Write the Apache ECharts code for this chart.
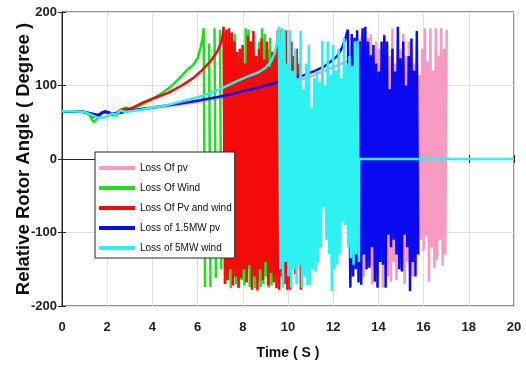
<!DOCTYPE html>
<html><head><meta charset="utf-8">
<script src="https://cdn.jsdelivr.net/npm/echarts@6/dist/echarts.min.js"></script>
<style>html,body{margin:0;padding:0;background:#fff}#c{width:526px;height:369px}</style>
</head><body><div id="c"></div>
<script>
// ---- data ----
const seriesNames = ['Loss Of pv', 'Loss Of Wind', 'Loss Of Pv and wind', 'Loss of 1.5MW pv', 'Loss of 5MW wind'];
const seriesColors = ['#f79ac2', '#1ee01e', '#f50a0a', '#0a0af0', '#2ef2f2'];
const xTicks = [0, 2, 4, 6, 8, 10, 12, 14, 16, 18, 20];
const yTicks = [-200, -100, 0, 100, 200];

// smooth (pre-slip) parts: [time s, angle deg]
const pvSmooth = [[0,65],[0.5,65],[1.0,64],[1.3,61],[1.6,59],[1.9,64],[2.2,62],[2.6,63],[3.0,65],[3.5,67],[4.0,69],[5.0,73],[6.0,78],[7.0,83],[8.0,88],[9.0,95],[10.0,102],[11.0,112],[12.0,125],[12.6,133],[12.9,140],[13.1,150],[13.22,162]];
const windSmooth = [[0,65],[0.5,65],[1.0,64],[1.2,60],[1.4,50],[1.6,56],[1.8,63],[2.0,64],[2.2,60],[2.4,59],[2.6,66],[2.8,70],[3.0,68],[3.3,71],[3.6,75],[4.0,82],[4.4,89],[4.8,98],[5.2,110],[5.5,120],[5.8,128],[6.0,137],[6.13,151],[6.22,165]];
const pvWindSmooth = [[0,65],[0.5,65],[1.0,64],[1.2,62],[1.4,57],[1.6,58],[1.8,64],[2.0,63],[2.2,61],[2.4,62],[2.6,67],[2.8,68],[3.0,68],[3.2,71],[3.6,77],[4.0,82],[4.7,90],[5.3,100],[5.8,110],[6.2,121],[6.6,134],[6.9,148],[7.05,160],[7.12,170]];
const pv15Smooth = [[0,65],[0.5,65],[1.0,64],[1.3,62],[1.6,60],[1.9,65],[2.2,62],[2.6,63],[3.0,66],[3.5,68],[4.0,70],[4.7,73],[5.5,77],[6.1,80],[7.0,85],[7.6,89],[8.2,94],[8.8,98],[9.5,104],[10.1,110],[10.7,114],[11.2,120],[11.6,126],[12.0,135],[12.2,141],[12.4,152],[12.55,165],[12.65,176]];
const wind5Smooth = [[0,65],[0.5,65],[1.0,64],[1.3,60],[1.6,56],[1.8,56],[2.0,58],[2.2,62],[2.4,61],[2.6,66],[2.8,64],[3.0,65],[3.5,67],[4.0,70],[4.5,72],[5.0,76],[5.5,80],[6.0,84],[6.5,89],[7.0,95],[7.6,104],[8.2,112],[8.7,118],[9.0,124],[9.24,132],[9.4,143],[9.5,157],[9.56,170]];

// pole-slipping parts: values sampled every oscStep seconds from the start time (null = gap)
const oscStep = 0.06;
const pvOscStart = 13.3;
const pvOsc = [170,-160,150,-150,165,-140,170,-170,140,-150,160,-120,150,-140,120,-175,170,-130,150,-160,140,-167,178,-140,130,-165,160,-120,150,-150,170,-170,140,-140,160,-150,150,-160,130,-120,150,-120,114,-110,150,-125,178,-105,133,-167,178,-120,120,-148,178,-137,140,-110,178,-145,150,-130,176];
const windOscStart = 6.27;
const windOsc = [178,-174,null,null,157,-174,null,null,178,-162,null,null,176,-150,null,150,-170,130,-160,146,-176,120,-150,170,-170,140,-176,150,-165,130,-172,178,-150,176,-174,160,-140,150,-176,130,-168,160,-174,178,-170,170,-160,150,-175,165,-172,140,-165,130,-160,120];
const pvWindOscStart = 7.15;
const pvWindOsc = [180,-170,176,-165,178,-150,172,-172,160,-160,146,-175,150,-162,155,-150,130,-168,168,-145,160,-178,174,-160,140,-179,150,-150,164,-165,135,-140,160,-172,125,-155,146,-168,150,-176,175,-178,176,-160,120,-170,175,-178,130,-178,160,-150,140,-157,150,-140,130,-178];
const pv15OscStart = 12.7;
const pv15Osc = [178,-175,170,-160,165,-150,175,-168,160,-171,178,-130,180,-150,160,-148,141,-120,155,-167,130,-175,119,-140,160,-144,168,-175,160,-103,95,-120,150,-110,119,-130,180,-150,137,-153,160,-103,100,-120,140,-180,164,-140,120,-160,174,-130];
const wind5OscStart = 9.6;
const wind5Osc = [180,-150,178,-175,176,-140,130,-160,175,-175,120,-150,150,-170,110,-145,174,-175,95,-160,130,-172,155,-171,70,-150,110,-153,120,-140,105,-120,161,-66,100,-110,160,-130,115,-180,155,-150,120,-144,150,-130,110,-85,165,-90,130,-120,140,-135,127,-144,160,-130,161,-140];
const wind5Tail = [[13.15,0],[20,0]];

function build(smooth, start, osc, tail) {
  const pts = smooth.slice();
  osc.forEach((v, i) => pts.push([+(start + i * oscStep).toFixed(3), v]));
  return tail ? pts.concat(tail) : pts;
}
const seriesData = [
  build(pvSmooth, pvOscStart, pvOsc),
  build(windSmooth, windOscStart, windOsc),
  build(pvWindSmooth, pvWindOscStart, pvWindOsc),
  build(pv15Smooth, pv15OscStart, pv15Osc),
  build(wind5Smooth, wind5OscStart, wind5Osc, wind5Tail)
];

// ---- chart ----
const FONT = '"Liberation Sans",Arial,sans-serif';
const chart = echarts.init(document.getElementById('c'), null, {renderer: 'canvas'});
const axisBase = {
  axisLine: {show: true, lineStyle: {color: '#262626', width: 1}},
  axisTick: {show: true, inside: true, length: 4, lineStyle: {color: '#262626'}},
};
chart.setOption({
  animation: false,
  backgroundColor: '#fff',
  grid: {left: 62, right: 12, top: 12, bottom: 63, outerBoundsMode: 'none', containLabel: false,
         show: true, borderColor: '#262626', borderWidth: 1, backgroundColor: '#fff'},
  legend: {
    data: seriesNames.map((n, i) => ({name: n, icon: 'rect', itemStyle: {color: seriesColors[i]}})),
    orient: 'vertical', left: 95, top: 152, z: 20,
    itemWidth: 36, itemHeight: 4, itemGap: 8,
    padding: [10, 3, 4, 4],
    backgroundColor: '#fff', borderColor: '#262626', borderWidth: 1, borderRadius: 0,
    textStyle: {fontFamily: FONT, fontSize: 10, lineHeight: 12, color: '#111'}
  },
  xAxis: [{
    type: 'value', min: xTicks[0], max: xTicks[xTicks.length - 1], interval: 2,
    ...axisBase,
    splitLine: {show: true, lineStyle: {color: '#e0e0e0', width: 1}},
    axisLabel: {margin: 15, fontFamily: FONT, fontWeight: 'bold', fontSize: 13, color: '#222'},
    name: 'Time ( S )', nameLocation: 'middle', nameGap: 40, nameMoveOverlap: false,
    nameTextStyle: {fontFamily: FONT, fontWeight: 'bold', fontSize: 14, color: '#111'}
  }, {
    type: 'value', position: 'top', min: xTicks[0], max: xTicks[xTicks.length - 1], interval: 2,
    ...axisBase, axisLabel: {show: false}, splitLine: {show: false}
  }],
  yAxis: [{
    type: 'value', min: yTicks[0], max: yTicks[yTicks.length - 1], interval: 100,
    ...axisBase,
    splitLine: {show: true, lineStyle: {color: '#e0e0e0', width: 1}},
    axisLabel: {margin: 5, fontFamily: FONT, fontWeight: 'bold', fontSize: 13, color: '#222'},
    name: 'Relative Rotor Angle ( Degree )', nameLocation: 'middle', nameGap: 29, nameMoveOverlap: false,
    nameTextStyle: {fontFamily: FONT, fontWeight: 'bold', fontSize: 18.5, color: '#111'}
  }, {
    type: 'value', position: 'right', min: yTicks[0], max: yTicks[yTicks.length - 1], interval: 100,
    ...axisBase, axisLabel: {show: false}, splitLine: {show: false}
  }],
  series: seriesNames.map((n, i) => ({
    name: n, type: 'line', data: seriesData[i], xAxisIndex: 0, yAxisIndex: 0,
    showSymbol: false, symbol: 'none', connectNulls: false,
    lineStyle: {color: seriesColors[i], width: 2.5}, itemStyle: {color: seriesColors[i]},
    z: 2
  }))
});
</script></body></html>
